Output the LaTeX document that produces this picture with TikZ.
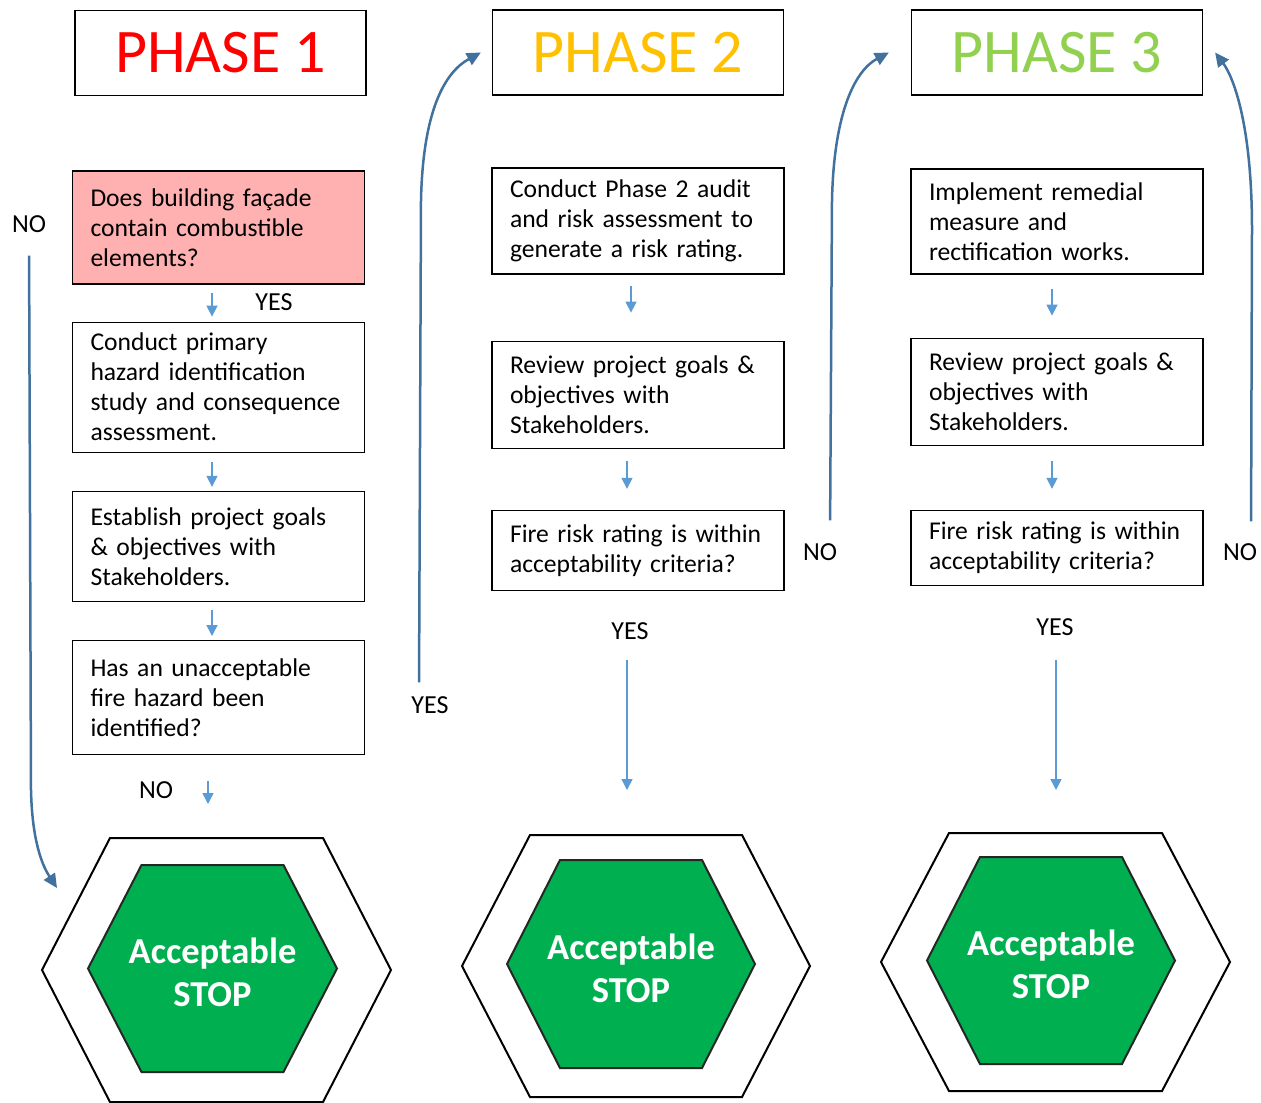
\documentclass[tikz,border=0pt]{standalone}
\usepackage{fontspec}
\setmainfont{Carlito}
\usepackage{tikz}
\usetikzlibrary{arrows.meta, positioning}

\definecolor{phaseone}{RGB}{255,0,0}
\definecolor{phasetwo}{RGB}{255,192,0}
\definecolor{phasethree}{RGB}{146,208,80}
\definecolor{stepblue}{RGB}{91,155,213}
\definecolor{loopblue}{RGB}{65,113,156}
\definecolor{stopgreen}{RGB}{0,176,80}
\definecolor{alertpink}{RGB}{255,176,176}

% hexagon: [style]{centre}{half width}{half top edge}{half height}
\newcommand{\hexagon}[5][]{%
  \draw[#1] (#2) +(-#3,0) -- +(-#4,-#5) -- +(#4,-#5) -- +(#3,0)
    -- +(#4,#5) -- +(-#4,#5) -- cycle;}

\begin{document}
\begin{tikzpicture}[
  x=1pt, y=-1pt,
  phase/.style={draw, line width=1.2pt, minimum width=291pt, minimum height=85pt,
    font=\fontsize{62}{62}\selectfont},
  stepbox/.style={draw, line width=1.2pt, text width=256pt, inner xsep=18pt,
    inner ysep=4pt, align=left, font=\fontsize{25.6}{30}\selectfont},
  lbl/.style={inner sep=3pt, font=\fontsize{26}{30}\selectfont},
  down/.style={-{Triangle[width=11pt,length=11pt]}, draw=stepblue, line width=1.5pt},
  back/.style={-{Triangle[width=13pt,length=14pt]}, draw=loopblue, line width=2.5pt},
  outerhex/.style={draw=black, line width=2pt, fill=white},
  innerhex/.style={draw=black!85, line width=2pt, fill=stopgreen},
  stoptext/.style={text=white, align=center, font=\fontsize{36.5}{43}\selectfont\bfseries}
]
\path[use as bounding box, fill=white] (0,0) rectangle (1261,1103);

\node[phase, text=phaseone] (phase1) at (220.5,53) {PHASE 1};
\node[phase, text=phasetwo] (phase2) at (638,52.5) {PHASE 2};
\node[phase, text=phasethree] (phase3) at (1057,52.5) {PHASE 3};

\node[stepbox, fill=alertpink, minimum height=113pt] (facade) at (218.5,227.5)
  {Does building façade\\contain combustible\\elements?};
\node[stepbox, minimum height=130pt, below=37pt of facade] (hazid)
  {Conduct primary\\hazard identification\\study and consequence\\assessment.};
\node[stepbox, minimum height=110pt, below=38pt of hazid] (goals1)
  {Establish project goals\\\& objectives with\\Stakeholders.};
\node[stepbox, minimum height=114pt, below=38pt of goals1] (unaccept)
  {Has an unacceptable\\fire hazard been\\identified?};

\node[stepbox, minimum height=106pt] (audit) at (638,221)
  {Conduct Phase 2 audit\\and risk assessment to\\generate a risk rating.};
\node[stepbox, minimum height=107pt, below=66pt of audit] (goals2)
  {Review project goals \&\\objectives with\\Stakeholders.};
\node[stepbox, minimum height=80pt, below=61pt of goals2] (rating2)
  {Fire risk rating is within\\acceptability criteria?};

\node[stepbox, minimum height=105pt] (remedy) at (1057,221.5)
  {Implement remedial\\measure and\\rectification works.};
\node[stepbox, minimum height=107pt, below=63pt of remedy] (goals3)
  {Review project goals \&\\objectives with\\Stakeholders.};
\node[stepbox, minimum height=75pt, below=64pt of goals3] (rating3)
  {Fire risk rating is within\\acceptability criteria?};

\node[lbl] (no1) at (29,224) {NO};
\node[lbl] (yes1) at (274,302) {YES};
\node[lbl] (no1b) at (156,790) {NO};
\node[lbl] (yes1b) at (430,705) {YES};
\node[lbl] (yes2) at (630,631) {YES};
\node[lbl] (no2) at (820,552) {NO};
\node[lbl] (yes3) at (1055,627) {YES};
\node[lbl] (no3) at (1240,552) {NO};

\coordinate (hexout1) at (216.5,970);
\coordinate (hexout2) at (636,966);
\coordinate (hexout3) at (1055.5,962);
\coordinate (hexin1) at (212.5,968.5);
\coordinate (hexin2) at (631,964);
\coordinate (hexin3) at (1051,960.5);

\hexagon[outerhex]{hexout1}{174.5}{106.5}{132}
\hexagon[innerhex]{hexin1}{124.5}{71}{103.5}
\hexagon[outerhex]{hexout2}{174}{106}{131}
\hexagon[innerhex]{hexin2}{124}{71}{104}
\hexagon[outerhex]{hexout3}{174.5}{106.5}{129}
\hexagon[innerhex]{hexin3}{124}{71}{103.5}

\node[stoptext] (stop1) at (212.5,972) {Acceptable\\STOP};
\node[stoptext] (stop2) at (631,968) {Acceptable\\STOP};
\node[stoptext] (stop3) at (1051,964) {Acceptable\\STOP};

\coordinate (end1) at (208,804);
\coordinate (end2) at (627,790);
\coordinate (end3) at (1056,790);
\coordinate (hit1) at (57,888);

\draw[down, shorten <=8pt, shorten >=5pt] ([xshift=-6.5pt]facade.south) -- ([xshift=-6.5pt]hazid.north);
\draw[down, shorten <=9pt, shorten >=4pt] ([xshift=-6.5pt]hazid.south) -- ([xshift=-6.5pt]goals1.north);
\draw[down, shorten <=8pt, shorten >=4pt] ([xshift=-6.5pt]goals1.south) -- ([xshift=-6.5pt]unaccept.north);
\draw[down, shorten <=26pt] ([xshift=-10.5pt]unaccept.south) -- (end1);

\draw[down, shorten <=11pt, shorten >=28pt] ([xshift=-7pt]audit.south) -- ([xshift=-7pt]goals2.north);
\draw[down, shorten <=12pt, shorten >=21pt] ([xshift=-11pt]goals2.south) -- ([xshift=-11pt]rating2.north);
\draw[down, shorten <=17pt] ([xshift=-3pt]yes2.south) -- (end2);

\draw[down, shorten <=14pt, shorten >=22pt] ([xshift=-5pt]remedy.south) -- ([xshift=-5pt]goals3.north);
\draw[down, shorten <=15pt, shorten >=21pt] ([xshift=-5pt]goals3.south) -- ([xshift=-5pt]rating3.north);
\draw[down, shorten <=21pt] ([xshift=1pt]yes3.south) -- (end3);

\draw[back, shorten <=20pt] (no1.south) -- (31,790) .. controls (32,835) and (40,862) .. (hit1);
\draw[back, shorten <=11pt] ([xshift=-11pt]yes1b.north) -- (421,200)
  .. controls (423,110) and (445,72) .. ([xshift=-11pt]phase2.west);
\draw[back, shorten <=20pt] ([xshift=10pt]no2.north) -- (832,200)
  .. controls (834,110) and (856,70) .. ([xshift=-22pt]phase3.west);
\draw[back, shorten <=19pt] ([xshift=11pt]no3.north) -- (1252,230)
  .. controls (1252,120) and (1232,75) .. ([xshift=12pt]phase3.east);
\end{tikzpicture}
\end{document}
